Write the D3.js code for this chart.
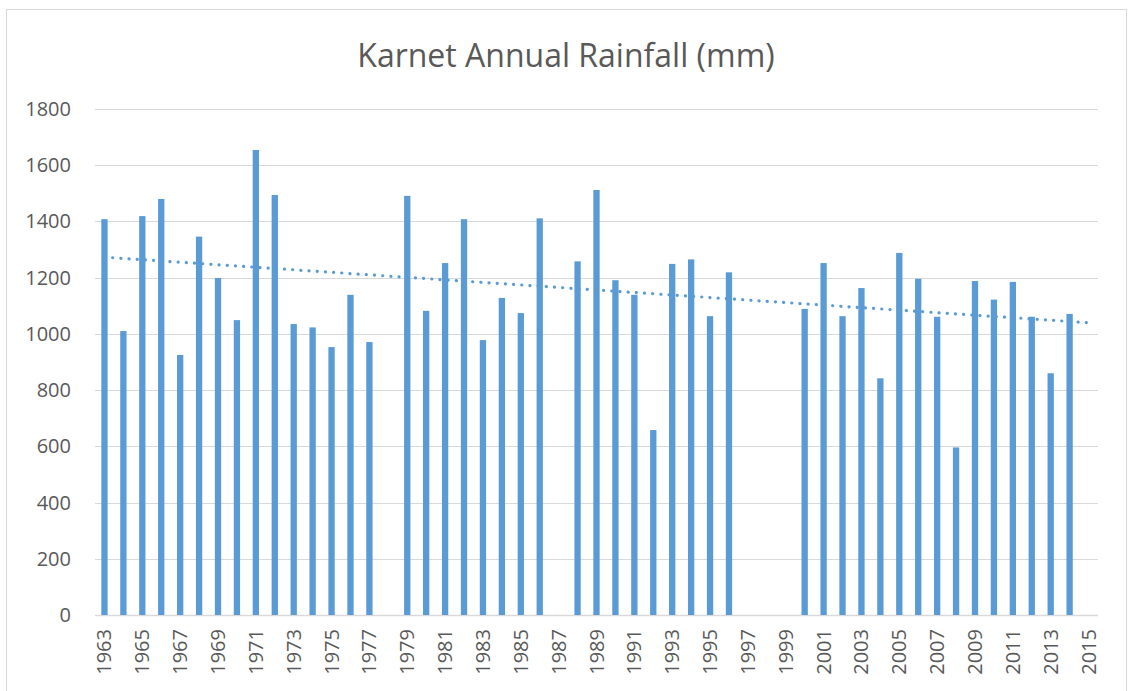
<!DOCTYPE html>
<html>
<head>
<meta charset="utf-8">
<script src="https://cdn.jsdelivr.net/npm/d3@7"></script>
<style>
  body { margin: 0; background: #fff; }
  svg text { font-family: "Open Sans", "Noto Sans", sans-serif; fill: #595959; }
</style>
</head>
<body>
<div class="chart"></div>
<script>
// years on the category axis
var years = d3.range(1963, 2016);

// annual rainfall (mm), null where no record
var rainfall = [
  1408, 1010, 1419, 1480, 925, 1346, 1199, 1049, 1654, 1494,
  1035, 1023, 953, 1139, 971, null, 1491, 1082, 1252, 1408,
  978, 1128, 1074, 1411, null, 1258, 1512, 1191, 1139, 658,
  1249, 1265, 1063, 1219, null, null, null, 1089, 1252, 1063,
  1163, 842, 1288, 1196, 1061, 596, 1188, 1122, 1185, 1061,
  860, 1071, null
];

var yTicks = [0, 200, 400, 600, 800, 1000, 1200, 1400, 1600, 1800];
var title = "Karnet Annual Rainfall (mm)";

var W = 1128, H = 691;
var margin = {left: 95, right: 30, top: 109, bottom: 76};

var svg = d3.select("div.chart")
            .append("svg")
            .attr("width", W)
            .attr("height", H);

// chart frame
svg.append("rect")
   .attr("x", 6.5).attr("y", 9.5)
   .attr("width", 1120).attr("height", 690)
   .attr("fill", "#fff")
   .attr("stroke", "#d9d9d9");

var x = d3.scaleBand()
          .domain(years)
          .range([margin.left, W - margin.right])
          .paddingInner(2 / 3)
          .paddingOuter(1 / 3);

var y = d3.scaleLinear()
          .domain([0, 1800])
          .range([H - margin.bottom, margin.top]);

function cx(yr) { return x(yr) + x.bandwidth() / 2; }

// gridlines
svg.append("g")
   .selectAll("line")
   .data(yTicks)
   .enter()
   .append("line")
   .attr("x1", margin.left).attr("x2", W - margin.right)
   .attr("y1", function(d) { return Math.round(y(d)) + 0.5; })
   .attr("y2", function(d) { return Math.round(y(d)) + 0.5; })
   .attr("stroke", "#d9d9d9")
   .attr("stroke-width", function(d) { return d === 0 ? 1.5 : 1.2; });

// y labels
svg.append("g")
   .selectAll("text")
   .data(yTicks)
   .enter()
   .append("text")
   .attr("x", 71)
   .attr("y", function(d) { return y(d); })
   .attr("dy", "0.35em")
   .attr("text-anchor", "end")
   .style("font-size", "20px")
   .text(function(d) { return d; });

// bars
var pts = years.map(function(yr, i) { return {year: yr, i: i + 1, v: rainfall[i]}; });

svg.append("g")
   .selectAll("rect")
   .data(pts.filter(function(d) { return d.v !== null; }))
   .enter()
   .append("rect")
   .attr("x", function(d) { return x(d.year); })
   .attr("width", x.bandwidth())
   .attr("y", function(d) { return y(d.v); })
   .attr("height", function(d) { return y(0) - y(d.v); })
   .attr("fill", "#5b9bd5");

// linear trendline (least squares over category index, like excel)
var known = pts.filter(function(d) { return d.v !== null; });
var mx = d3.mean(known, function(d) { return d.i; });
var my = d3.mean(known, function(d) { return d.v; });
var slope = d3.sum(known, function(d) { return (d.i - mx) * (d.v - my); }) /
            d3.sum(known, function(d) { return (d.i - mx) * (d.i - mx); });
var icpt = my - slope * mx;

var trend = [pts[0], pts[pts.length - 1]];
svg.append("path")
   .datum(trend)
   .attr("d", d3.line()
                .x(function(d) { return cx(d.year); })
                .y(function(d) { return y(icpt + slope * d.i); }))
   .attr("fill", "none")
   .attr("stroke", "#5b9bd5")
   .attr("stroke-width", 3.2)
   .attr("stroke-linecap", "round")
   .attr("stroke-dasharray", "0.1,8.1");

// x labels, every other year, rotated
svg.append("g")
   .selectAll("text")
   .data(years.filter(function(d, i) { return i % 2 === 0; }))
   .enter()
   .append("text")
   .attr("transform", function(d) { return "translate(" + cx(d) + "," + 629 + ")rotate(-90)"; })
   .attr("dy", "0.35em")
   .attr("text-anchor", "end")
   .style("font-size", "20px")
   .text(function(d) { return d; });

// title
svg.append("text")
   .attr("x", 566)
   .attr("y", 67)
   .attr("text-anchor", "middle")
   .style("font-size", "32px")
   .text(title);
</script>
</body>
</html>
